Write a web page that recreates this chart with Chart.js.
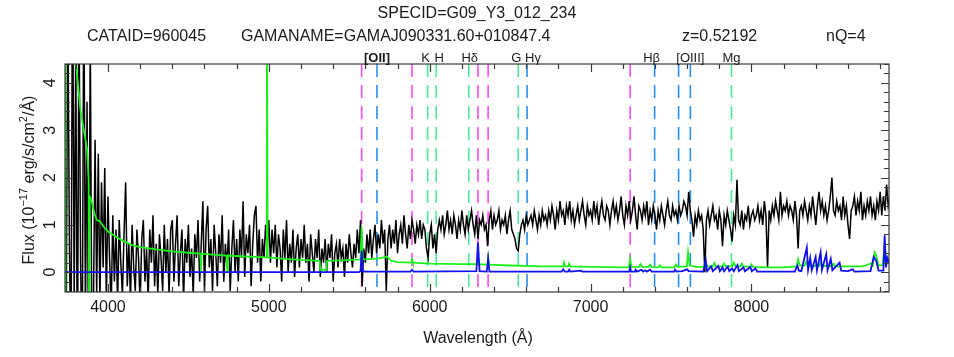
<!DOCTYPE html>
<html>
<head>
<meta charset="utf-8">
<title>G09_Y3_012_234</title>
<script src="https://cdn.jsdelivr.net/npm/chart.js@4.4.1/dist/chart.umd.min.js"></script>
<style>
  html, body { margin: 0; padding: 0; background: #fff; }
</style>
</head>
<body>
<canvas id="spec" width="954" height="357"></canvas>
<script>
'use strict';

/* ============================================================
   SPECTRUM DATA
   ============================================================ */
const SPECID = 'G09_Y3_012_234';
const CATAID = '960045';
const GAMANAME = 'GAMAJ090331.60+010847.4';
const Z = 0.52192;
const NQ = 4;

const WAVE_MIN = 3733;
const WAVE_MAX = 8855;
const FLUX_MIN = -0.42;
const FLUX_MAX = 4.4;

// observed flux, one value every 10 A starting at 3730 A
const WAVE_START = 3730;
const WAVE_STEP = 10;
const FLUX = [
  5.5, -1.8, 6.0, 0.8, -2.2, 7.0, -0.6, 4.8, -2.5, 5.6,      // 3730
  0.2, -1.9, 6.4, -1.0, 3.6, -2.3, 5.1, -1.5, -0.6, 2.8,     // 3830
  -0.5, 2.5, -0.7, 1.9, 0.1, 2.2, -0.6, 1.6, 0.3, -0.8,      // 3930
  1.2, -0.2, 0.9, -0.7, 1.1, 0.2, -0.5, 0.8, 1.9, -0.3,      // 4030
  0.6, -0.6, 1.0, 0.1, -0.4, 0.9, 0.3, -0.7, 0.7, 1.1,       // 4130
  -0.2, 0.5, -0.6, 0.9, 0.2, 1.2, -0.3, 0.6, -0.5, 0.8,      // 4230
  0.3, -0.4, 1.0, 0.0, 0.7, -0.5, 0.9, 1.1, -0.2, 0.6,       // 4330
  1.2, -0.3, 0.4, 0.9, -0.6, 0.7, 0.2, 1.0, -0.1, 0.5,       // 4430
  -0.5, 0.8, 0.3, 1.1, -0.2, 0.6, 1.5, -0.4, 0.9, 1.4,       // 4530
  0.1, 0.7, -0.4, 1.0, 0.4, -0.3, 0.8, 0.2, 1.2, -0.2,       // 4630
  0.6, 0.1, 0.9, -0.4, 0.5, 1.1, 0.0, 0.7, -0.2, 0.9,        // 4730
  0.3, 1.5, -0.1, 0.8, 0.4, 1.0, -0.3, 0.6, 1.2, 1.4,        // 4830
  0.2, 0.9, -0.2, 0.7, 0.3, 1.0, 0.5, 1.1, 0.2, 0.9,         // 4930
  0.4, 1.0, 0.1, 0.8, 0.5, -0.2, 0.9, 0.3, 1.1, 0.0,         // 5030
  0.6, 0.2, 0.9, -0.1, 0.5, 0.8, 0.1, 0.7, 0.3, 1.0,         // 5130
  0.2, 0.6, -0.2, 0.8, 0.4, 0.0, 0.7, 0.3, 0.9, -0.1,        // 5230
  0.5, 0.2, 0.7, 0.0, 0.6, 0.3, 0.8, -0.2, 0.4, 0.6,         // 5330
  0.1, 0.7, 0.3, 0.5, -0.1, 0.6, 0.2, 0.8, 0.4, 0.1,         // 5430
  0.6, 0.3, 0.9, 0.4, 1.1, -0.3, 0.5, 0.2, 0.8, 0.4,         // 5530
  0.9, 0.3, 0.7, 1.0, 0.4, 0.8, 0.5, 1.1, 0.6, 0.9,          // 5630
  -0.4, 0.7, 1.0, 0.5, 0.9, 0.6, 1.1, 0.4, 0.8, 1.0,         // 5730
  0.6, 1.2, 0.8, 0.5, 1.0, 0.7, 1.1, 0.9, 0.6, 1.0,          // 5830
  0.8, 1.1, 0.7, 1.0, 0.9, 0.5, 0.3, 0.8, 1.0, 0.5,          // 5930
  0.8, 0.4, 0.9, 1.1, 0.9, 1.2, 0.8, 1.0, 1.3, 0.9,          // 6030
  1.1, 0.8, 1.2, 1.0, 0.7, 1.1, 0.9, 1.3, 1.0, 0.8,          // 6130
  1.2, 0.9, 1.1, 1.3, 1.0, 0.8, 1.2, 0.7, 1.1, 1.0,          // 6230
  1.2, 0.9, 1.0, 0.55, 1.1, 1.3, 0.9, 1.2, 1.0, 1.1,         // 6330
  1.3, 0.9, 1.1, 1.0, 1.2, 0.8, 1.1, 1.3, 0.9, 0.8,          // 6430
  0.7, 0.5, 0.45, 0.8, 1.0, 1.1, 0.9, 1.2, 1.0, 1.1,         // 6530
  1.2, 1.0, 1.3, 1.1, 0.9, 1.2, 1.0, 1.3, 1.1, 1.2,          // 6630
  1.0, 1.3, 1.1, 1.4, 1.2, 0.9, 1.3, 1.1, 1.5, 1.2,          // 6730
  1.3, 1.0, 1.4, 1.2, 1.5, 1.1, 1.3, 1.0, 1.2, 1.4,          // 6830
  1.1, 1.3, 1.5, 1.2, 1.0, 1.4, 1.2, 1.3, 1.1, 1.5,          // 6930
  1.2, 1.4, 1.0, 1.3, 1.5, 1.2, 1.1, 1.4, 1.3, 1.0,          // 7030
  1.3, 1.5, 1.2, 1.4, 1.1, 1.3, 1.6, 1.2, 1.0, 1.4,          // 7130
  1.2, 1.5, 1.1, 1.3, 1.6, 1.2, 0.9, 1.4, 1.3, 1.1,          // 7230
  1.4, 1.2, 1.5, 1.0, 1.3, 1.1, 1.4, 1.2, 0.9, 1.3,          // 7330
  1.1, 1.4, 1.2, 1.0, 1.3, 1.5, 1.2, 1.1, 1.4, 1.2,          // 7430
  1.3, 1.1, 1.4, 1.2, 1.3, 1.5, 1.4, 1.2, 1.7, 1.3,          // 7530
  1.1, 0.75, 1.2, 1.0, 1.3, 1.1, 1.2, 0.9, 0.0, 1.1,         // 7630
  1.3, 1.0, 1.2, 1.4, 1.1, 1.2, 0.9, 1.3, 1.1, 0.55,         // 7730
  1.2, 1.0, 1.3, 1.1, 0.9, 0.65, 1.2, 1.0, 1.95, 1.1,        // 7830
  1.0, 1.3, 0.9, 1.2, 1.1, 1.4, 1.0, 1.2, 1.3, 1.1,          // 7930
  1.2, 1.4, 1.1, 1.3, 1.0, 1.5, 1.2, 0.1, 1.3, 1.1,          // 8030
  1.4, 1.2, 1.5, 1.3, 1.1, 1.7, 1.2, 1.4, 1.3, 1.5,          // 8130
  1.2, 1.4, 1.3, 1.1, 1.5, 1.2, 0.5, 1.3, 1.4, 1.2,          // 8230
  1.5, 1.3, 1.1, 1.4, 1.2, 1.6, 1.3, 1.0, 1.4, 1.7,          // 8330
  1.3, 1.5, 1.2, 1.4, 1.1, 1.3, 1.6, 2.0, 1.3, 1.2,          // 8430
  1.5, 1.3, 1.4, 1.1, 1.6, 1.2, 1.4, 1.0, 0.7, 1.3,          // 8530
  1.4, 1.6, 1.2, 1.5, 1.3, 1.7, 1.1, 1.4, 1.2, 1.5,          // 8630
  1.3, 1.6, 1.2, 1.4, 1.1, 1.5, 1.3, 1.7, 1.2, 1.6,          // 8730
  1.3, 1.85, 1.4, 1.6                                        // 8830
];

// error spectrum (green): [wavelength, sigma]
const SIGMA_POINTS = [
  [3733, -1.0], [3736, 9.0], [3750, 7.5], [3770, 6.0], [3790, 5.0], [3810, 4.1],
  [3830, 3.4], [3850, 3.0], [3870, 2.6], [3880, 1.95], [3883, -1.0], [3886, 1.6],
  [3895, 1.55], [3905, 1.4], [3915, 1.25], [3930, 1.1], [3950, 1.08], [3975, 0.95],
  [4000, 0.86], [4050, 0.75], [4100, 0.65], [4150, 0.57], [4200, 0.53], [4300, 0.48],
  [4400, 0.44], [4500, 0.41], [4575, 0.39], [4578, 0.0], [4582, 0.39], [4650, 0.37],
  [4737, 0.35], [4741, 0.02], [4745, 0.35], [4850, 0.33], [4984, 0.31], [4988, 6.0],
  [4993, 0.31], [5100, 0.28], [5200, 0.26], [5316, 0.24], [5320, 0.05], [5358, 0.05],
  [5362, 0.24], [5450, 0.25], [5570, 0.27], [5577, 0.95], [5584, 0.27], [5650, 0.28],
  [5700, 0.30], [5735, 0.33], [5760, 0.24], [5800, 0.21], [5885, 0.20], [5890, 0.26],
  [5895, 0.20], [6000, 0.18], [6200, 0.17], [6296, 0.17], [6300, 0.27], [6305, 0.17],
  [6359, 0.16], [6364, 0.31], [6369, 0.16], [6500, 0.14], [6700, 0.12], [6830, 0.12],
  [6835, 0.20], [6842, 0.12], [6862, 0.12], [6867, 0.18], [6875, 0.12], [7000, 0.11],
  [7238, 0.10], [7246, 0.28], [7254, 0.11], [7300, 0.11], [7310, 0.17], [7320, 0.11],
  [7360, 0.11], [7370, 0.16], [7380, 0.11], [7420, 0.10], [7430, 0.15], [7440, 0.10],
  [7520, 0.10], [7530, 0.16], [7540, 0.11], [7598, 0.12], [7606, 0.42], [7616, 0.14],
  [7660, 0.11], [7700, 0.11], [7716, 0.20], [7725, 0.12], [7760, 0.12], [7770, 0.19],
  [7780, 0.12], [7820, 0.12], [7830, 0.18], [7840, 0.12], [7880, 0.13], [7890, 0.20],
  [7900, 0.13], [7930, 0.12], [7940, 0.18], [7950, 0.12], [7995, 0.11], [8000, 0.16],
  [8010, 0.11], [8100, 0.10], [8200, 0.10], [8282, 0.12], [8290, 0.27], [8300, 0.14],
  [8330, 0.14], [8340, 0.22], [8350, 0.14], [8420, 0.13], [8430, 0.20], [8440, 0.13],
  [8500, 0.13], [8510, 0.18], [8520, 0.12], [8600, 0.12], [8620, 0.12], [8680, 0.12],
  [8700, 0.13], [8730, 0.17], [8745, 0.18], [8755, 0.14], [8765, 0.42], [8775, 0.35],
  [8790, 0.14], [8815, 0.15], [8826, 0.50], [8832, 0.45], [8840, 0.20], [8855, 0.30]
];

// sky spectrum (blue): [wavelength, flux]
const SKY_POINTS = [
  [3733, 0.0], [5560, 0.0], [5570, 0.02], [5577, 0.45], [5584, 0.02], [5600, 0.01],
  [5880, 0.01], [5890, 0.05], [5900, 0.01], [6290, 0.02], [6300, 0.63], [6310, 0.02],
  [6355, 0.01], [6363, 0.28], [6371, 0.01], [6820, 0.01], [6830, 0.06], [6840, 0.01],
  [6860, 0.01], [6867, 0.05], [6875, 0.01], [6940, 0.03], [6950, 0.01], [7240, 0.01],
  [7246, 0.10], [7252, 0.01], [7276, 0.01], [7280, 0.05], [7290, 0.01], [7316, 0.05],
  [7325, 0.01], [7340, 0.04], [7350, 0.01], [7370, 0.05], [7380, 0.01], [7520, 0.01],
  [7525, 0.05], [7535, 0.01], [7570, 0.02], [7600, 0.06], [7610, 0.02], [7700, 0.01],
  [7716, 0.25], [7724, 0.02], [7750, 0.12], [7760, 0.02], [7794, 0.13], [7804, 0.02],
  [7820, 0.10], [7830, 0.02], [7853, 0.12], [7862, 0.02], [7880, 0.08], [7890, 0.02],
  [7913, 0.15], [7922, 0.02], [7950, 0.10], [7960, 0.02], [7993, 0.11], [8002, 0.02],
  [8025, 0.08], [8035, 0.01], [8270, 0.01], [8285, 0.14], [8295, 0.03], [8310, 0.02],
  [8344, 0.52], [8352, 0.05], [8365, 0.30], [8375, 0.04], [8399, 0.32], [8407, 0.04],
  [8430, 0.42], [8438, 0.05], [8465, 0.38], [8473, 0.04], [8493, 0.28], [8503, 0.04],
  [8548, 0.20], [8558, 0.03], [8600, 0.02], [8630, 0.06], [8640, 0.01], [8740, 0.02],
  [8760, 0.32], [8775, 0.25], [8790, 0.03], [8820, 0.03], [8828, 0.78], [8836, 0.10],
  [8845, 0.30], [8855, 0.20]
];

// marker lines (rest-frame wavelengths, sky lines observed)
const SKY_LINES = [5577, 5890, 6300, 6363, 7246];
const EMISSION_LINES = [3727, 4340, 4861, 4959, 5007];
const ABSORPTION_LINES = [3934, 3969, 4102, 4304, 5175];

const LINE_LABELS = ['[OII]', 'K', 'H', 'Hδ', 'G', 'Hγ', 'Hβ', '[OIII]', 'Mg'];
const LINE_LABEL_REST = [3727, 3934, 3969, 4102, 4304, 4340, 4861, 5007, 5175];

const X_TICKS = [4000, 5000, 6000, 7000, 8000];
const Y_TICKS = [0, 1, 2, 3, 4];
const X_MINOR_STEP = 200;
const Y_MINOR_STEP = 0.2;


/* ============================================================
   STYLE
   ============================================================ */
const FONT = '"Liberation Sans", Arial, sans-serif';
const TEXT_COLOR = '#1a1a1a';
const FRAME_COLOR = '#3a3a3a';
const COLORS = {
  flux: '#000000',
  sigma: '#1cf01c',
  sky: '#1010f0',
  skyLine: '#ff4cf0',
  emission: '#2a90f0',
  absorption: '#4fe89a'
};
// small horizontal nudges (px) so neighbouring labels don't collide
const LABEL_NUDGE = [0, -2, 3, 1, -2, 6, -3, 0, 0];


/* ============================================================
   DATASETS
   ============================================================ */
const fluxData = FLUX.map((f, i) => ({ x: WAVE_START + i * WAVE_STEP, y: f }));
const sigmaData = SIGMA_POINTS.map(([w, s]) => ({ x: w, y: s }));
const skyData = SKY_POINTS.map(([w, s]) => ({ x: w, y: s }));

function markerSet(wave, color) {
  return {
    data: [{ x: wave, y: FLUX_MAX }, { x: wave, y: FLUX_MIN }],
    borderColor: color,
    borderWidth: 1.6,
    borderDash: [13, 8],
    pointRadius: 0,
    order: 3
  };
}

const markers = [
  ...SKY_LINES.map(w => markerSet(w, COLORS.skyLine)),
  ...EMISSION_LINES.map(w => markerSet(w * (1 + Z), COLORS.emission)),
  ...ABSORPTION_LINES.map(w => markerSet(w * (1 + Z), COLORS.absorption))
];


/* ============================================================
   FRAME, TICKS AND TEXT (IDL-style plot furniture)
   ============================================================ */
const plotFurniture = {
  id: 'plotFurniture',

  afterDraw(chart) {
    const { ctx, chartArea: a, scales: { x, y } } = chart;
    ctx.save();

    // frame
    ctx.strokeStyle = FRAME_COLOR;
    ctx.lineWidth = 1.2;
    ctx.strokeRect(a.left, a.top, a.right - a.left, a.bottom - a.top);

    // x ticks, bottom and top, pointing inward
    ctx.beginPath();
    for (let v = Math.ceil(WAVE_MIN / X_MINOR_STEP) * X_MINOR_STEP; v <= WAVE_MAX; v += X_MINOR_STEP) {
      const px = Math.round(x.getPixelForValue(v)) + 0.5;
      const len = X_TICKS.includes(v) ? 8 : 5;
      ctx.moveTo(px, a.bottom); ctx.lineTo(px, a.bottom - len);
      ctx.moveTo(px, a.top); ctx.lineTo(px, a.top + len);
    }
    // y ticks, left and right
    for (let k = Math.ceil(FLUX_MIN / Y_MINOR_STEP); k * Y_MINOR_STEP <= FLUX_MAX; k++) {
      const v = k * Y_MINOR_STEP;
      const py = Math.round(y.getPixelForValue(v)) + 0.5;
      const major = Math.abs(v - Math.round(v)) < 1e-6;
      const len = major ? 8 : 5;
      ctx.moveTo(a.left, py); ctx.lineTo(a.left + len, py);
      ctx.moveTo(a.right, py); ctx.lineTo(a.right - len, py);
    }
    ctx.stroke();

    ctx.fillStyle = TEXT_COLOR;
    ctx.font = `16px ${FONT}`;

    // x tick labels
    ctx.textAlign = 'center';
    ctx.textBaseline = 'alphabetic';
    X_TICKS.forEach(v => ctx.fillText(String(v), x.getPixelForValue(v), 312));

    // y tick labels, rotated
    Y_TICKS.forEach(v => {
      ctx.save();
      ctx.translate(55, y.getPixelForValue(v));
      ctx.rotate(-Math.PI / 2);
      ctx.fillText(String(v), 0, 0);
      ctx.restore();
    });

    // axis titles
    ctx.fillText('Wavelength (Å)', 478, 343);
    this.drawYTitle(ctx, 34, (a.top + a.bottom) / 2 + 2);

    // header
    ctx.fillText(`SPECID=${SPECID}`, 477, 18);
    ctx.textAlign = 'left';
    ctx.fillText(`CATAID=${CATAID}`, 87, 41);
    ctx.fillText(`GAMANAME=${GAMANAME}`, 241, 41);
    ctx.fillText(`z=${Z.toFixed(5)}`, 682, 41);
    ctx.fillText(`nQ=${NQ}`, 826, 41);

    // spectral line labels above the frame
    ctx.textAlign = 'center';
    LINE_LABELS.forEach((txt, i) => {
      ctx.font = (i === 0 ? 'bold ' : '') + `13px ${FONT}`;
      const px = x.getPixelForValue(LINE_LABEL_REST[i] * (1 + Z)) + LABEL_NUDGE[i];
      ctx.fillText(txt, px, 62);
    });

    ctx.restore();
  },

  /* Flux (10^-17 erg/s/cm^2/A) with superscripts, rotated */
  drawYTitle(ctx, bx, cy) {
    const parts = [
      ['Flux (10', 16, 0], ['−17', 11, -7], [' erg/s/cm', 16, 0], ['2', 11, -7], ['/Å)', 16, 0]
    ];
    let total = 0;
    parts.forEach(p => { ctx.font = `${p[1]}px ${FONT}`; total += ctx.measureText(p[0]).width; });
    ctx.save();
    ctx.translate(bx, cy);
    ctx.rotate(-Math.PI / 2);
    ctx.textAlign = 'left';
    let pos = -total / 2;
    parts.forEach(([t, size, dy]) => {
      ctx.font = `${size}px ${FONT}`;
      ctx.fillText(t, pos, dy);
      pos += ctx.measureText(t).width;
    });
    ctx.restore();
  }
};


/* ============================================================
   CHART
   ============================================================ */
new Chart(document.getElementById('spec'), {
  type: 'line',
  data: {
    datasets: [
      { label: 'sky', data: skyData, borderColor: COLORS.sky, borderWidth: 1.8, pointRadius: 0, order: 0 },
      { label: 'sigma', data: sigmaData, borderColor: COLORS.sigma, borderWidth: 1.8, pointRadius: 0, order: 1 },
      { label: 'flux', data: fluxData, borderColor: COLORS.flux, borderWidth: 1.5, pointRadius: 0, order: 2 },
      ...markers
    ]
  },
  options: {
    responsive: false,
    animation: false,
    parsing: false,
    normalized: true,
    layout: { padding: { left: 65, right: 65, top: 64, bottom: 65 } },
    plugins: { legend: { display: false }, tooltip: { enabled: false } },
    elements: { line: { tension: 0, borderJoinStyle: 'miter' } },
    scales: {
      x: { type: 'linear', min: WAVE_MIN, max: WAVE_MAX, display: false },
      y: { type: 'linear', min: FLUX_MIN, max: FLUX_MAX, display: false }
    }
  },
  plugins: [plotFurniture]
});
</script>
</body>
</html>
